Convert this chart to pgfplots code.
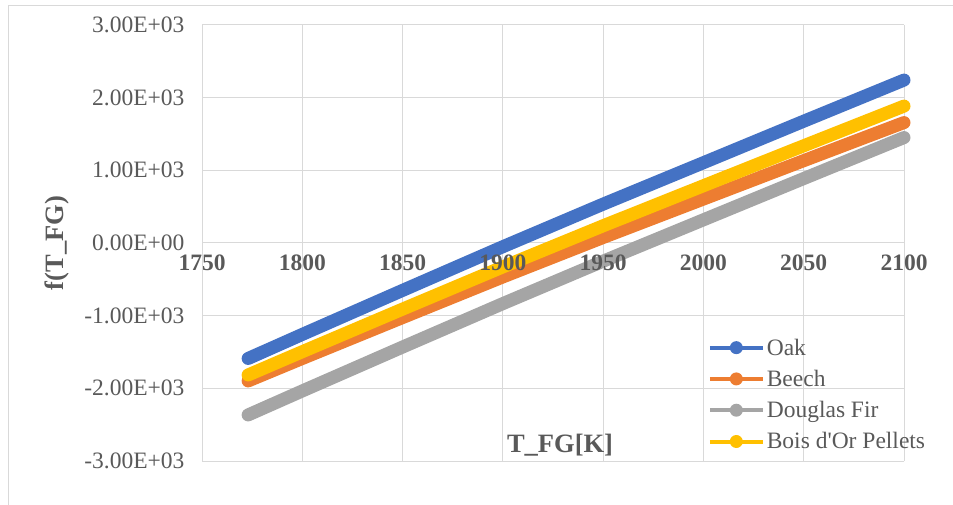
\documentclass[border=0pt]{standalone}
\usepackage{pgfplots}
\pgfplotsset{compat=1.18}
\usepackage{fontspec}
\setmainfont{Liberation Serif}[Ligatures=TeXOff]
\definecolor{oakc}{HTML}{4472C4}
\definecolor{beechc}{HTML}{ED7D31}
\definecolor{firc}{HTML}{A5A5A5}
\definecolor{boisc}{HTML}{FFC000}
\definecolor{txt}{HTML}{595959}
\definecolor{gridc}{HTML}{D9D9D9}
\pgfplotsset{
  base/.style={
    at={(202bp,44bp)}, anchor=south west,
    scale only axis, width=702bp, height=436bp,
    xmin=1750, xmax=2100, ymin=-3000, ymax=3000,
    axis x line=middle, axis y line=left,
    hide obscured x ticks=false, hide obscured y ticks=false,
    xtick={1750,1800,1850,1900,1950,2000,2050,2100},
    ytick={-3000,-2000,-1000,0,1000,2000,3000},
    major tick length=0pt,
    clip=false,
  }
}
\begin{document}
\begin{tikzpicture}
\path[use as bounding box] (0,0) rectangle (953bp,505bp);
\draw[gridc, line width=1bp] (8bp,0) -- (8bp,499bp) -- (953bp,499bp);
\begin{axis}[
  base,
  axis line style={-, draw=gridc, line width=1bp},
  xticklabels={},
  yticklabels={-3.00E+03,-2.00E+03,-1.00E+03,0.00E+00,1.00E+03,2.00E+03,3.00E+03},
  grid=major, grid style={gridc, line width=1bp},
  yticklabel style={font=\fontsize{23.5bp}{28bp}\selectfont, text=txt, anchor=east, xshift=-14bp},
  xlabel={T\_FG[K]}, ylabel={f(T\_FG)},
  xlabel style={at={(axis description cs:0.51,0.037)}, anchor=center, font=\fontsize{26.5bp}{30bp}\selectfont\bfseries, text=txt},
  ylabel style={at={(axis description cs:-0.2066,0.5)}, anchor=center, font=\fontsize{26.5bp}{30bp}\selectfont\bfseries, text=txt},
  legend style={at={(0.716,0.29)}, anchor=north west, draw=none, fill=none,
    font=\fontsize{23.5bp}{28bp}\selectfont, text=txt, row sep=9.5bp,
    /tikz/every even column/.append style={column sep=0bp}},
  legend cell align=left,
  legend image code/.code={
    \draw[#1, line width=4bp, line cap=butt] (0bp,0bp) -- (53bp,0bp);
    \fill[#1, draw=none] (26.5bp,0bp) circle (6.5bp);
  },
]
\addplot[oakc, line width=13bp, line cap=round] coordinates {
 (1773,-1589) (1800,-1258) (1850,-652) (1900,-51) (1950,535) (2000,1105) (2050,1676) (2100,2242)};
\addlegendentry{Oak}
\addplot[beechc, line width=13bp, line cap=round] coordinates {
 (1773,-1898) (1800,-1589) (1850,-1026) (1900,-467) (1950,76) (2000,605) (2050,1133) (2100,1657)};
\addlegendentry{Beech}
\addplot[firc, line width=13bp, line cap=round] coordinates {
 (1773,-2366) (1800,-2036) (1850,-1432) (1900,-834) (1950,-250) (2000,319) (2050,887) (2100,1451)};
\addlegendentry{Douglas Fir}
\addplot[boisc, line width=13bp, line cap=round] coordinates {
 (1773,-1816) (1800,-1496) (1850,-910) (1900,-329) (1950,237) (2000,788) (2050,1338) (2100,1884)};
\addlegendentry{Bois d'Or Pellets}
\end{axis}
\begin{axis}[
  base,
  axis line style={draw=none},
  xticklabels={1750,1800,1850,1900,1950,2000,2050,2100},
  yticklabels={},
  xticklabel style={font=\fontsize{23.5bp}{28bp}\selectfont\bfseries, text=txt, anchor=north, yshift=-8bp},
]
\end{axis}
\end{tikzpicture}
\end{document}
